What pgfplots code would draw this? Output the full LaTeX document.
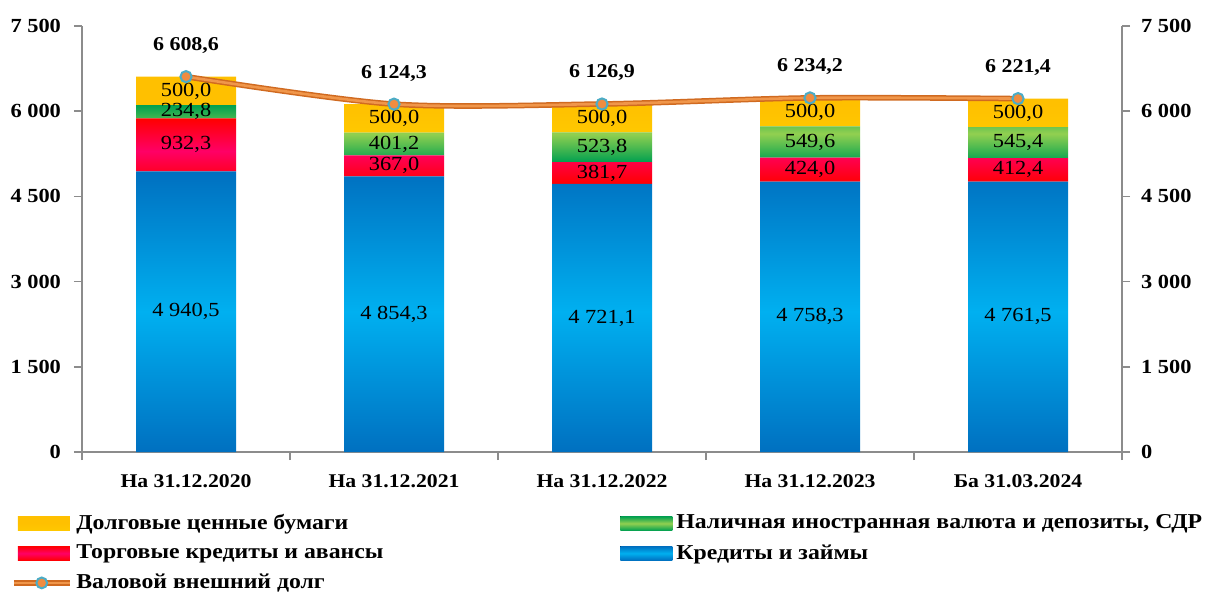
\documentclass[border=0pt]{standalone}
\usepackage{pgfplots}
\pgfplotsset{compat=1.18}
\usepackage{pgfplotstable}
\usepackage{fontspec}
\setmainfont{Liberation Serif}[FakeStretch=1.12]
\usetikzlibrary{calc}
\definecolor{blueD}{HTML}{0070C0}
\definecolor{blueL}{HTML}{00B0F0}
\definecolor{redD}{HTML}{FF0000}
\definecolor{redL}{HTML}{FF0066}
\definecolor{greenD}{HTML}{00A050}
\definecolor{greenL}{HTML}{92D050}
\definecolor{yel}{HTML}{FFC000}
\definecolor{yelL}{HTML}{FFC800}
\definecolor{lineO}{HTML}{F0964A}
\definecolor{lineD}{HTML}{D06A20}
\definecolor{markO}{HTML}{F08C40}
\definecolor{markB}{HTML}{4BACC6}
\definecolor{axgray}{HTML}{8C8C8C}

\pgfplotstableread{
x blue red green yellow total
0 4940.5 932.3 234.8 500.0 6608.6
1 4854.3 367.0 401.2 500.0 6124.3
2 4721.1 381.7 523.8 500.0 6126.9
3 4758.3 424.0 549.6 500.0 6234.2
4 4761.5 412.4 545.4 500.0 6221.4
}\data

\pgfplotsset{
  /pgf/number format/assume math mode=true,
  base/.style={
    scale only axis, width=520pt, height=213pt,
    xmin=-0.5, xmax=4.5, ymin=0, ymax=7500,
    ytick={0,1500,...,7500},
    yticklabel style={font=\bfseries\fontsize{10}{12}\selectfont,
      /pgf/number format/1000 sep={\ }},
    tick align=outside,
    major tick length=4pt, minor tick length=4pt,
    tick style={axgray, line width=0.8pt},
    axis line style={axgray, line width=0.8pt},
  },
  lbl/.style={
    draw=none, mark=none, forget plot,
    nodes near coords, point meta=explicit,
    every node near coord/.append style={anchor=center, font=\fontsize{10}{12}\selectfont, black},
    /pgf/number format/fixed, /pgf/number format/fixed zerofill,
    /pgf/number format/precision=1, /pgf/number format/use comma,
    /pgf/number format/1000 sep={\ },
  },
}

\begin{document}
\begin{tikzpicture}
\begin{axis}[base,
  ybar stacked, bar width=50pt,
  axis x line*=bottom, axis y line*=left,
  xtick={0,...,4},
  xticklabels={На 31.12.2020, На 31.12.2021, На 31.12.2022, На 31.12.2023, Ба 31.03.2024},
  xticklabel style={font=\bfseries\fontsize{9.7}{12}\selectfont, yshift=-4pt},
  major x tick style={draw=none},
  minor xtick={-0.5,0.5,1.5,2.5,3.5,4.5},
  yticklabel style={xshift=-3pt},
]
\coordinate (LL) at (rel axis cs:0,0);
\coordinate (UR) at (rel axis cs:1,1);
\addplot[draw=none, top color=blueD, bottom color=blueD, middle color=blueL] table[x=x,y=blue] {\data};
\addplot[draw=none, top color=redD, bottom color=redD, middle color=redL] table[x=x,y=red] {\data};
\addplot[draw=none, top color=greenD, bottom color=greenD, middle color=greenL] table[x=x,y=green] {\data};
\addplot[draw=none, top color=yel, bottom color=yelL, middle color=yel] table[x=x,y=yellow] {\data};
\end{axis}

\begin{axis}[base,
  axis x line=none, axis y line*=right,
  clip=false,
  yticklabel style={xshift=2pt},
  legend columns=2,
  legend cell align=left,
  legend style={at={(-0.0685,-0.136)}, anchor=north west, draw=none, fill=none,
    font=\bfseries\fontsize{10.6}{12}\selectfont, inner sep=0pt, row sep=2pt,
    /tikz/column 2/.style={column sep=116.5pt}},
]
\addlegendimage{legend image code/.code={\fill[draw=none, top color=yel, bottom color=yelL, middle color=yel] (0pt,-3.5pt) rectangle (26pt,3.5pt);}}
\addlegendentry{Долговые ценные бумаги}
\addlegendimage{legend image code/.code={\fill[draw=none, top color=greenD, bottom color=greenD, middle color=greenL] (0pt,-3.5pt) rectangle (26pt,3.5pt);}}
\addlegendentry{Наличная иностранная валюта и депозиты, СДР}
\addlegendimage{legend image code/.code={\fill[draw=none, top color=redD, bottom color=redD, middle color=redL] (0pt,-3.5pt) rectangle (26pt,3.5pt);}}
\addlegendentry{Торговые кредиты и авансы}
\addlegendimage{legend image code/.code={\fill[draw=none, top color=blueD, bottom color=blueD, middle color=blueL] (0pt,-3.5pt) rectangle (26pt,3.5pt);}}
\addlegendentry{Кредиты и займы}
\addlegendimage{legend image code/.code={\draw[lineD, line width=2.6pt] (-2pt,0pt) -- (26pt,0pt); \draw[lineO, line width=1.2pt] (-2pt,0pt) -- (26pt,0pt); \draw[fill=markO, draw=markB, line width=1pt] (12pt,0pt) circle (2.7pt);}}
\addlegendentry{Валовой внешний долг}

\addplot[lbl] table[x=x, y expr=\thisrow{blue}/2, meta=blue] {\data};
\addplot[lbl] table[x=x, y expr=\thisrow{blue}+\thisrow{red}/2, meta=red] {\data};
\addplot[lbl] table[x=x, y expr=\thisrow{blue}+\thisrow{red}+\thisrow{green}/2, meta=green] {\data};
\addplot[lbl] table[x=x, y expr=\thisrow{blue}+\thisrow{red}+\thisrow{green}+\thisrow{yellow}/2, meta=yellow] {\data};

\addplot[smooth, lineD, line width=2.8pt, forget plot] table[x=x,y=total] {\data};
\addplot[smooth, lineO, line width=1.3pt, forget plot] table[x=x,y=total] {\data};
\addplot[only marks, mark=*, mark size=2.8pt, mark options={fill=markO, draw=markB, line width=1pt}, forget plot,
  nodes near coords, point meta=y,
  every node near coord/.append style={anchor=center, yshift=15.5pt, font=\bfseries\fontsize{9.8}{12}\selectfont, black},
  /pgf/number format/fixed, /pgf/number format/fixed zerofill,
  /pgf/number format/precision=1, /pgf/number format/use comma,
  /pgf/number format/1000 sep={\ }] table[x=x,y=total] {\data};
\end{axis}
\pgfresetboundingbox
\path ($(LL)+(-41pt,-71pt)$) rectangle ($(UR)+(42pt,13pt)$);
\end{tikzpicture}
\end{document}
